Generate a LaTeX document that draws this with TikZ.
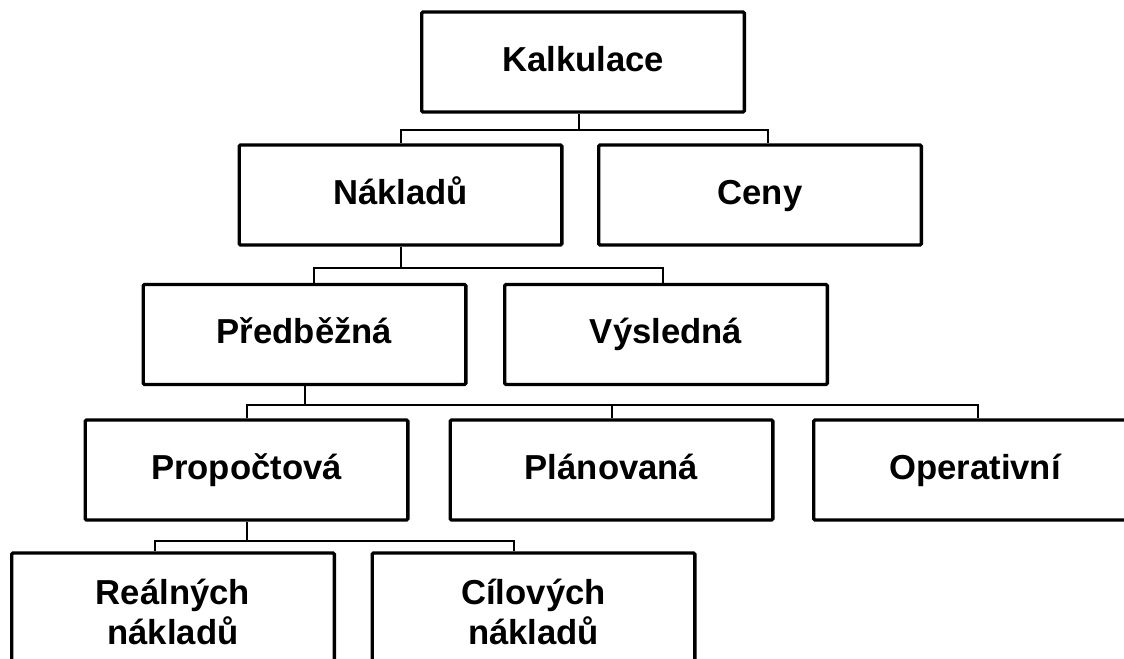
\documentclass[tikz,border=0pt]{standalone}
\usepackage{fontspec}
\setmainfont{Liberation Sans}
\begin{document}
\begin{tikzpicture}[
    x=0.75pt,
    y=-0.75pt,
    box/.style={
      draw,
      line width=2.5pt,
      rounded corners=1pt,
      minimum width=242pt,
      minimum height=75pt,
      text height=19pt,
      text depth=5pt,
      align=center,
      font=\fontsize{26}{30}\selectfont\bfseries
    },
    tallbox/.style={
      box,
      minimum height=123pt
    },
    conn/.style={
      draw,
      line width=1.5pt
    }
  ]
    \useasboundingbox (0, 0) rectangle (1124, 659);
    \clip (0, 0) rectangle (1124, 659);

    \node[box] (kalk) at (583, 62) {Kalkulace};
    \node[box] (naklad) at (400.5, 195) {Nákladů};
    \node[box] (ceny) at (760, 195) {Ceny};
    \node[box] (predb) at (304.5, 334.5) {Předběžná};
    \node[box] (vysl) at (666, 334.5) {Výsledná};
    \node[box] (propoc) at (246.5, 470) {Propočtová};
    \node[box] (plan) at (611.5, 470) {Plánovaná};
    \node[box] (oper) at (975, 470) {Operativní};
    \node[tallbox] (real) at (173, 635) {Reálných\\nákladů};
    \node[tallbox] (cil) at (533.5, 635) {Cílových\\nákladů};

    \draw[conn] ([xshift=-3pt]kalk.south) -- ++(0, 16) coordinate (j1);
    \draw[conn] (naklad.north) |- (j1) -| ([xshift=6pt]ceny.north);
    \draw[conn] (naklad.south) -- ++(0, 21) coordinate (j2);
    \draw[conn] ([xshift=7pt]predb.north) |- (j2) -| ([xshift=-2pt]vysl.north);
    \draw[conn] (predb.south) -- ++(0, 19) coordinate (j3);
    \draw[conn] (propoc.north) |- (j3) -| ([xshift=2pt]oper.north);
    \draw[conn] (plan.north) -- (plan.north |- j3);
    \draw[conn] (propoc.south) -- ++(0, 19) coordinate (j4);
    \draw[conn] ([xshift=-13.5pt]real.north) |- (j4) -| ([xshift=-14.5pt]cil.north);

  \end{tikzpicture}
\end{document}
